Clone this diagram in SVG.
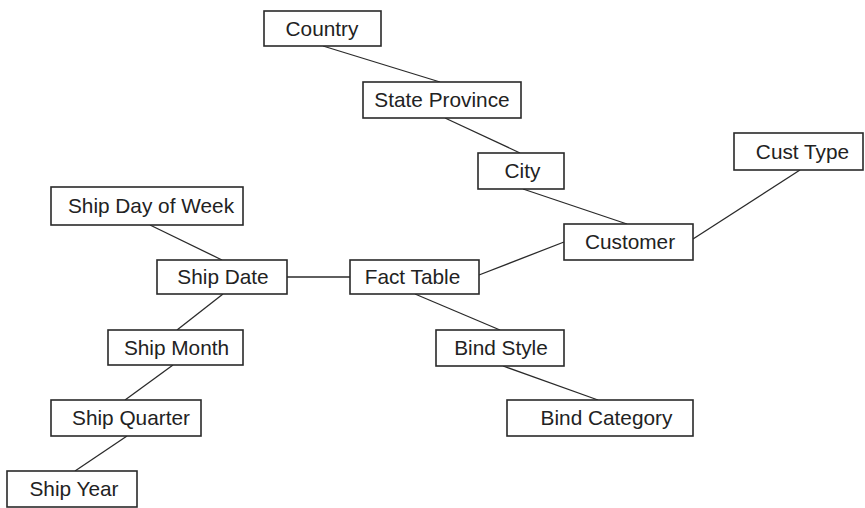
<svg xmlns="http://www.w3.org/2000/svg" width="865" height="508" viewBox="0 0 865 508">
<style>
.box{fill:#fff;stroke:#2a2a2a;stroke-width:1.6}
.lbl{font-family:"Liberation Sans",Arial,sans-serif;font-size:20.8px;fill:#222;text-anchor:middle}
.conn line{stroke:#2a2a2a;stroke-width:1.3}
</style>
<rect width="865" height="508" fill="#fff"/>
<g class="conn" id="connectors">
<line x1="323" y1="46" x2="440" y2="82"/>
<line x1="445" y1="118" x2="520" y2="153"/>
<line x1="523" y1="189" x2="627" y2="224"/>
<line x1="564" y1="242" x2="479" y2="275"/>
<line x1="693" y1="239" x2="800" y2="170"/>
<line x1="150" y1="225" x2="222" y2="260"/>
<line x1="287" y1="277" x2="350" y2="277"/>
<line x1="223" y1="294" x2="177" y2="330"/>
<line x1="173" y1="365" x2="125" y2="400"/>
<line x1="127" y1="436" x2="75" y2="471"/>
<line x1="415" y1="294" x2="500" y2="330"/>
<line x1="503" y1="366" x2="598" y2="400"/>
</g>
<g id="country"><rect class="box" x="264" y="11" width="117" height="35"/><text class="lbl" x="322" y="36">Country</text></g>
<g id="state-province"><rect class="box" x="363" y="82" width="158" height="36"/><text class="lbl" x="442" y="107">State Province</text></g>
<g id="city"><rect class="box" x="478" y="153" width="86" height="36"/><text class="lbl" x="522.5" y="178">City</text></g>
<g id="customer"><rect class="box" x="564" y="224" width="129" height="36"/><text class="lbl" x="630" y="249">Customer</text></g>
<g id="cust-type"><rect class="box" x="734" y="133" width="129" height="37"/><text class="lbl" x="802.5" y="159">Cust Type</text></g>
<g id="ship-day-of-week"><rect class="box" x="51" y="187" width="192" height="38"/><text class="lbl" x="151" y="213">Ship Day of Week</text></g>
<g id="ship-date"><rect class="box" x="157" y="260" width="130" height="34"/><text class="lbl" x="223" y="284">Ship Date</text></g>
<g id="fact-table"><rect class="box" x="350" y="260" width="129" height="34"/><text class="lbl" x="412.5" y="284">Fact Table</text></g>
<g id="ship-month"><rect class="box" x="108" y="330" width="135" height="35"/><text class="lbl" x="176.5" y="355">Ship Month</text></g>
<g id="bind-style"><rect class="box" x="436" y="330" width="128" height="36"/><text class="lbl" x="501" y="355">Bind Style</text></g>
<g id="ship-quarter"><rect class="box" x="51" y="400" width="150" height="36"/><text class="lbl" x="131" y="425">Ship Quarter</text></g>
<g id="bind-category"><rect class="box" x="507" y="400" width="186" height="36"/><text class="lbl" x="606.5" y="425">Bind Category</text></g>
<g id="ship-year"><rect class="box" x="7" y="471" width="130" height="36"/><text class="lbl" x="74" y="496">Ship Year</text></g>
</svg>
